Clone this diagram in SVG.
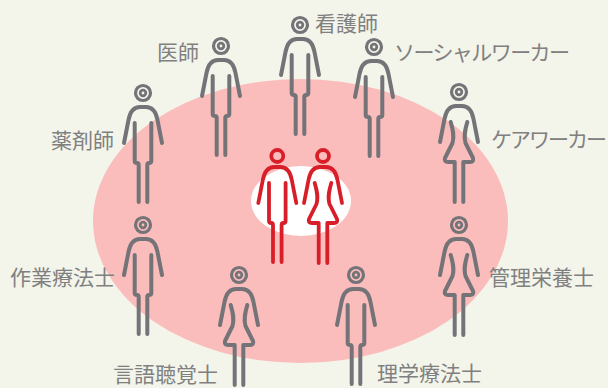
<svg xmlns="http://www.w3.org/2000/svg" width="608" height="388" viewBox="0 0 608 388">
<style>
text{font-family:"Noto Sans CJK JP","Liberation Sans",sans-serif;font-size:21px;fill:#808080}
.g{fill:none;stroke:#747478;stroke-width:4;stroke-linecap:round;stroke-linejoin:round}
.r{fill:none;stroke:#d81e28;stroke-width:3.800;stroke-linecap:round;stroke-linejoin:round}
</style>
<defs>
<path id="arms" d="M-19 50L-14.500 27C-13 19 -9 14 -3 14H3C9 14 13 19 14.500 27L19 50"/>
<path id="man" d="M-8.300 30V68Q-8.300 70 -6 70Q-4.300 70 -4.300 72V109M8.300 30V68Q8.300 70 6 70Q4.300 70 4.300 72V109"/>
<path id="woman" d="M-8.300 30C-6 38 -4.500 44 -6.500 51L-14 66Q-15 70 -11 70H-4.300V110M8.300 30C6 38 4.500 44 6.500 51L14 66Q15 70 11 70H4.300V110"/>
<g id="head"><circle r="7.500" stroke-width="3.200"/><circle r="2.800" stroke-width="2.800"/></g>
</defs>
<rect width="608" height="388" fill="#f3f4ea"/>
<ellipse cx="300.500" cy="221" rx="207.500" ry="142" fill="#fbbcbc"/>
<ellipse cx="301" cy="201" rx="50" ry="35" fill="#fff"/>
<g id="nurse" class="g" transform="translate(300 25)"><use href="#head"/><use href="#arms"/><use href="#man"/></g>
<g id="doctor" class="g" transform="translate(221 46)"><use href="#head"/><use href="#arms"/><use href="#man"/></g>
<g id="social" class="g" transform="translate(374 47)"><use href="#head"/><use href="#arms"/><use href="#man"/></g>
<g id="pharm" class="g" transform="translate(143 93)"><use href="#head"/><use href="#arms"/><use href="#man"/></g>
<g id="care" class="g" transform="translate(459 92)"><use href="#head"/><use href="#arms"/><use href="#woman"/></g>
<g id="ot" class="g" transform="translate(143 225)"><use href="#head"/><use href="#arms"/><use href="#man"/></g>
<g id="diet" class="g" transform="translate(459 225)"><use href="#head"/><use href="#arms"/><use href="#woman"/></g>
<g id="st" class="g" transform="translate(239 275)"><use href="#head"/><use href="#arms"/><use href="#woman"/></g>
<g id="pt" class="g" transform="translate(356 275)"><use href="#head"/><use href="#arms"/><use href="#man"/></g>
<g id="patient-m" class="r" transform="translate(277.300 156)"><circle r="6"/><use href="#arms" y="-3"/><use href="#man" y="-3"/></g>
<g id="patient-f" class="r" transform="translate(323 156)"><circle r="6"/><use href="#arms" y="-3"/><use href="#woman" y="-3"/></g>
<g id="labels">
<text x="315" y="31">看護師</text>
<text x="157" y="60">医師</text>
<text x="394" y="60" textLength="176" lengthAdjust="spacing">ソーシャルワーカー</text>
<text x="51" y="148">薬剤師</text>
<text x="491" y="147" textLength="116" lengthAdjust="spacing">ケアワーカー</text>
<text x="10" y="285">作業療法士</text>
<text x="489" y="285">管理栄養士</text>
<text x="113" y="382">言語聴覚士</text>
<text x="377" y="381">理学療法士</text>
</g>
</svg>
